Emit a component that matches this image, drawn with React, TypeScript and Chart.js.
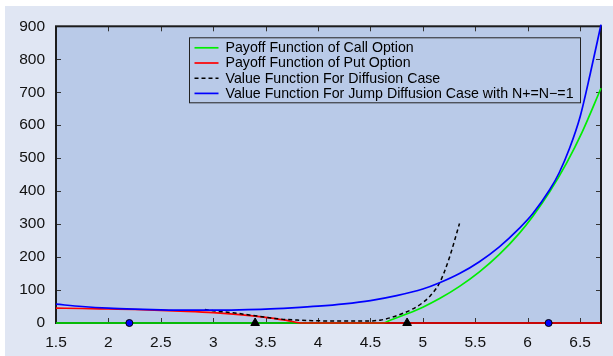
import { useEffect, useRef } from "react";
import { Chart, registerables } from "chart.js";

Chart.register(...registerables);

// ---- data ----
const xTicks = [1.5, 2, 2.5, 3, 3.5, 4, 4.5, 5, 5.5, 6, 6.5];
const yTicks = [0, 100, 200, 300, 400, 500, 600, 700, 800, 900];

const callX = [1.5, 4.62, 4.7, 4.85, 5.0, 5.16, 5.35, 5.54, 5.73, 5.92, 6.05, 6.21, 6.37, 6.52, 6.7];
const callY = [0, 0, 10, 28, 48, 74, 111, 155, 208, 272, 324, 398, 484, 579, 712];

const putX = [1.5, 1.75, 2.0, 2.25, 2.5, 2.75, 3.0, 3.25, 3.5, 3.7, 3.86, 6.7];
const putY = [45, 44, 42.5, 41, 38.5, 35.5, 31.5, 25.5, 17, 8, 0, 0];

const diffX = [2.92, 3.0, 3.19, 3.42, 3.64, 3.8, 3.95, 4.2, 4.45, 4.6, 4.7, 4.8, 4.9, 5.0, 5.07, 5.16, 5.25, 5.35];
const diffY = [41, 37, 31, 21, 12, 9, 7, 6, 6, 9, 17, 28, 42, 62, 82, 122, 195, 302];

const jumpX = [1.5, 1.75, 2.0, 2.25, 2.5, 2.75, 3.0, 3.25, 3.5, 3.75, 4.0, 4.25, 4.5, 4.75, 5.0, 5.16, 5.35, 5.54, 5.73, 5.92, 6.05, 6.21, 6.3, 6.4, 6.5, 6.6, 6.7];
const jumpY = [57, 50, 45, 42, 40, 39, 39, 40, 42, 46, 51, 58, 68, 83, 103, 122, 150, 186, 231, 287, 332, 404, 455, 530, 625, 760, 905];

const circleX = [2.2, 6.2];
const circleY = [0, 0];
const triangleX = [3.4, 4.85];
const triangleY = [0, 0];

const seriesLabels = [
  "Payoff Function of Call Option",
  "Payoff Function of Put Option",
  "Value Function For Diffusion Case",
  "Value Function For Jump Diffusion Case with N+=N\u2212=1",
];

const FIG_BG = "#e0e6f3";
const PLOT_BG = "#b9cae8";
const FONT = "'Liberation Sans', Arial, Helvetica, sans-serif";

const pts = (xs: number[], ys: number[]) => xs.map((x, i) => ({ x, y: ys[i] }));

const framePlugin = {
  id: "frame",
  beforeDraw(chart: any) {
    const { ctx, chartArea: a } = chart;
    ctx.save();
    ctx.fillStyle = PLOT_BG;
    ctx.fillRect(a.left, a.top, a.right - a.left, a.bottom - a.top);
    ctx.restore();
  },
  beforeDatasetsDraw(chart: any) {
    const { ctx, chartArea: a } = chart;
    const xs = chart.scales.x;
    const ys = chart.scales.y;
    ctx.save();
    ctx.strokeStyle = "#333";
    ctx.lineWidth = 1;
    const L = 5;
    ctx.beginPath();
    xs.ticks.forEach((t: any) => {
      const px = Math.round(xs.getPixelForValue(t.value)) + 0.5;
      ctx.moveTo(px, a.bottom);
      ctx.lineTo(px, a.bottom - L);
      ctx.moveTo(px, a.top);
      ctx.lineTo(px, a.top + L);
    });
    ys.ticks.forEach((t: any) => {
      const py = Math.round(ys.getPixelForValue(t.value)) + 0.5;
      ctx.moveTo(a.left, py);
      ctx.lineTo(a.left + L, py);
      ctx.moveTo(a.right, py);
      ctx.lineTo(a.right - L, py);
    });
    ctx.stroke();
    ctx.strokeStyle = "#1c1c1c";
    ctx.lineWidth = 2;
    ctx.strokeRect(a.left, a.top, a.right - a.left, a.bottom - a.top);
    ctx.restore();
  },
  afterDatasetsDraw(chart: any) {
    const { ctx, chartArea: a } = chart;
    const bx = a.left + 133.5;
    const by = a.top + 11.5;
    const bw = 391;
    const bh = 65;
    ctx.save();
    ctx.fillStyle = PLOT_BG;
    ctx.fillRect(bx, by, bw, bh);
    ctx.strokeStyle = "#222";
    ctx.lineWidth = 1;
    ctx.strokeRect(bx, by, bw, bh);
    ctx.font = `14.2px ${FONT}`;
    ctx.textBaseline = "middle";
    ctx.fillStyle = "#000";
    for (let i = 0; i < 4; i++) {
      const ds = chart.data.datasets[i];
      const cy = by + 10 + i * 15.2;
      ctx.beginPath();
      ctx.strokeStyle = ds.borderColor;
      ctx.lineWidth = ds.borderWidth;
      ctx.setLineDash(ds.borderDash || []);
      ctx.moveTo(bx + 5, cy);
      ctx.lineTo(bx + 29, cy);
      ctx.stroke();
      ctx.setLineDash([]);
      ctx.fillText(ds.label, bx + 36, cy + 0.5);
    }
    ctx.restore();
  },
};

export default function App() {
  const ref = useRef<HTMLCanvasElement>(null);

  useEffect(() => {
    if (!ref.current) return;
    Chart.defaults.font.family = FONT;
    const lineCommon = {
      pointRadius: 0,
      fill: false,
      cubicInterpolationMode: "monotone" as const,
      clip: false as any,
    };
    const chart = new Chart(ref.current, {
      type: "line",
      data: {
        datasets: [
          { ...lineCommon, label: seriesLabels[0], data: pts(callX, callY), borderColor: "#00ee00", borderWidth: 1.7, order: 4 },
          { ...lineCommon, label: seriesLabels[1], data: pts(putX, putY), borderColor: "#ff0000", borderWidth: 1.7, order: 3 },
          { ...lineCommon, label: seriesLabels[2], data: pts(diffX, diffY), borderColor: "#000000", borderWidth: 1.5, borderDash: [4, 3], order: 2 },
          { ...lineCommon, label: seriesLabels[3], data: pts(jumpX, jumpY), borderColor: "#0000ff", borderWidth: 1.7, order: 1 },
          {
            type: "scatter",
            label: "circles",
            data: pts(circleX, circleY),
            pointStyle: "circle",
            pointRadius: 3.5,
            backgroundColor: "#0000ff",
            borderColor: "#000",
            borderWidth: 1,
            showLine: false,
            clip: false as any,
            order: 0,
          } as any,
          {
            type: "scatter",
            label: "triangles",
            data: pts(triangleX, triangleY),
            pointStyle: "triangle",
            pointRadius: 5,
            backgroundColor: "#000",
            borderColor: "#000",
            borderWidth: 1,
            showLine: false,
            clip: false as any,
            order: 0,
          } as any,
        ],
      },
      options: {
        animation: false,
        responsive: true,
        maintainAspectRatio: false,
        parsing: false as any,
        layout: { padding: { top: 18, right: 12, left: 0, bottom: 0 } },
        plugins: { legend: { display: false }, tooltip: { enabled: false } },
        scales: {
          x: {
            type: "linear",
            min: 1.5,
            max: 6.7,
            grid: { display: false, drawTicks: false },
            border: { display: false },
            afterBuildTicks: (s: any) => {
              s.ticks = xTicks.map((v) => ({ value: v }));
            },
            afterFit: (s: any) => {
              s.height = 33;
            },
            ticks: {
              autoSkip: false,
              maxRotation: 0,
              padding: 10,
              color: "#111",
              font: { size: 15.5 },
              callback: (v: any) => String(v),
            },
          },
          y: {
            type: "linear",
            min: 0,
            max: 900,
            grid: { display: false, drawTicks: false },
            border: { display: false },
            afterBuildTicks: (s: any) => {
              s.ticks = yTicks.map((v) => ({ value: v }));
            },
            afterFit: (s: any) => {
              s.width = 51;
            },
            ticks: {
              autoSkip: false,
              padding: 11,
              color: "#111",
              font: { size: 15.5 },
              callback: (v: any) => String(v),
            },
          },
        },
      },
      plugins: [framePlugin],
    });
    return () => chart.destroy();
  }, []);

  return (
    <div
      style={{
        position: "absolute",
        left: 5,
        top: 6,
        width: 608,
        height: 350,
        background: FIG_BG,
      }}
    >
      <canvas ref={ref} />
    </div>
  );
}
